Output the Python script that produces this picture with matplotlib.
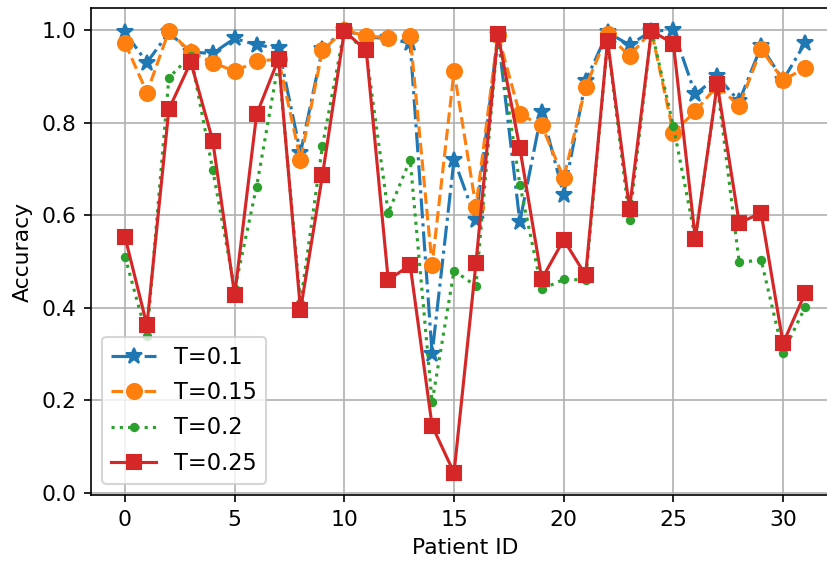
import numpy as np
import matplotlib
matplotlib.use("Agg")
import matplotlib.pyplot as plt

patient_ids = np.arange(32)

# accuracy per patient for each threshold
acc_t010 = [0.995, 0.93, 0.995, 0.952, 0.95, 0.982, 0.968, 0.961, 0.735, 0.96,
            1.0, 0.985, 0.982, 0.972, 0.30, 0.72, 0.59, 0.99, 0.586, 0.824,
            0.644, 0.89, 0.995, 0.968, 0.998, 1.0, 0.861, 0.90, 0.846, 0.965,
            0.892, 0.972]
acc_t015 = [0.972, 0.865, 0.998, 0.952, 0.93, 0.911, 0.933, 0.937, 0.72, 0.956,
            1.0, 0.987, 0.984, 0.988, 0.492, 0.911, 0.618, 0.99, 0.818, 0.794,
            0.68, 0.877, 0.991, 0.944, 0.998, 0.778, 0.825, 0.88, 0.836, 0.959,
            0.892, 0.918]
acc_t020 = [0.51, 0.338, 0.897, 0.945, 0.698, 0.44, 0.662, 0.93, 0.41, 0.75,
            1.0, 0.95, 0.605, 0.72, 0.196, 0.48, 0.447, 0.99, 0.666, 0.44,
            0.461, 0.46, 0.975, 0.59, 1.0, 0.792, 0.55, 0.88, 0.498, 0.503,
            0.302, 0.401]
acc_t025 = [0.553, 0.362, 0.829, 0.931, 0.761, 0.427, 0.818, 0.938, 0.395, 0.686,
            0.998, 0.956, 0.46, 0.492, 0.145, 0.043, 0.496, 0.991, 0.745, 0.462,
            0.547, 0.47, 0.977, 0.614, 0.998, 0.971, 0.549, 0.883, 0.583, 0.605,
            0.323, 0.431]

fig = plt.figure(figsize=(828/150, 565/150), dpi=150)
# axes run past the right edge of the canvas, like the cropped original
ax = fig.add_axes([91/828, 70/565, 748/828, 487/565])

ax.plot(patient_ids, acc_t010, '-.', marker='*', color='tab:blue', ms=8, label='T=0.1')
ax.plot(patient_ids, acc_t015, '--', marker='o', color='tab:orange', ms=7.2, label='T=0.15')
ax.plot(patient_ids, acc_t020, ':', marker='.', color='tab:green', ms=7, label='T=0.2')
ax.plot(patient_ids, acc_t025, '-', marker='s', color='tab:red', ms=7, label='T=0.25')

ax.set_xlabel('Patient ID', fontsize=10.5)
ax.set_ylabel('Accuracy', fontsize=10.5)
ax.tick_params(labelsize=10.5)
ax.spines['right'].set_visible(False)
ax.grid(True)
ax.legend(loc='lower left', fontsize=10.8, labelspacing=0.55)

fig.savefig('out.png', dpi=150)
